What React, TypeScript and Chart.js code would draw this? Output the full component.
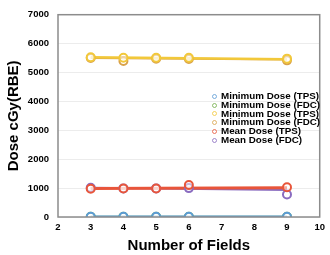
import React, { useEffect, useRef } from "react";
import { Chart, registerables } from "chart.js";

Chart.register(...registerables);

const fields = [3, 4, 5, 6, 9];
const xTicks = [2, 3, 4, 5, 6, 7, 8, 9, 10];
const yTicks = [0, 1000, 2000, 3000, 4000, 5000, 6000, 7000];

const seriesLabels = [
  "Minimum Dose (TPS)",
  "Minimum Dose (FDC)",
  "Minimum Dose (TPS)",
  "Minimum Dose (FDC)",
  "Mean Dose (TPS)",
  "Mean Dose (FDC)",
];
const seriesColors = ["#5b9bd5", "#70ad47", "#f2c83a", "#d9a24a", "#e8553a", "#8a6cc0"];

const minTPS = [5, 5, 5, 5, 5];
const minFDC = [5, 5, 5, 5, 5];
const max1TPS = [5530, 5510, 5510, 5510, 5480];
const max1FDC = [5500, 5400, 5480, 5470, 5420];
const meanTPS = [975, 985, 985, 1110, 1030];
const meanFDC = [1010, 990, 990, 1000, 780];
const seriesValues = [minTPS, minFDC, max1TPS, max1FDC, meanTPS, meanFDC];

// trend line end points (x=3 and x=9)
const trendX = [3, 9];
const trendMinTPS = [5, 5];
const trendMinFDC = [5, 5];
const trendMax1TPS = [5525, 5460];
const trendMax1FDC = [5500, 5450];
const trendMeanTPS = [990, 1010];
const trendMeanFDC = [1010, 930];
const trendValues = [trendMinTPS, trendMinFDC, trendMax1TPS, trendMax1FDC, trendMeanTPS, trendMeanFDC];
const trendWidths = [2.5, 2, 2.5, 2, 3, 2];

const FONT = "Arial, 'Liberation Sans', sans-serif";

const framePlugin = {
  id: "frame",
  afterDraw(chart: any) {
    const { ctx, chartArea } = chart;
    ctx.save();
    ctx.strokeStyle = "#8c8c8c";
    ctx.lineWidth = 1.5;
    ctx.strokeRect(chartArea.left, chartArea.top, chartArea.right - chartArea.left, chartArea.bottom - chartArea.top);
    ctx.restore();
  },
};

export default function App() {
  const ref = useRef<HTMLCanvasElement>(null);
  useEffect(() => {
    const datasets: any[] = [];
    trendValues.forEach((vals, i) => {
      datasets.push({
        type: "line",
        label: seriesLabels[i] + " trend",
        data: trendX.map((x, j) => ({ x, y: vals[j] })),
        borderColor: seriesColors[i],
        borderWidth: trendWidths[i],
        pointRadius: 0,
        fill: false,
        order: 10,
      });
    });
    seriesValues.forEach((vals, i) => {
      datasets.push({
        type: "scatter",
        label: seriesLabels[i],
        data: fields.map((x, j) => ({ x, y: vals[j] })),
        borderColor: seriesColors[i],
        backgroundColor: "rgba(255,255,255,0.5)",
        pointRadius: 4,
        pointBorderWidth: 2,
        showLine: false,
        order: 1,
      });
    });
    const tickFont = { family: FONT, size: 9.5, weight: "bold" as const };
    const chart = new Chart(ref.current!, {
      type: "scatter",
      data: { datasets },
      options: {
        animation: false,
        responsive: false,
        layout: { padding: { top: 11, right: 6, left: 0, bottom: 0 } },
        plugins: { legend: { display: false }, tooltip: { enabled: false } },
        scales: {
          x: {
            type: "linear",
            min: 2,
            max: 10,
            afterBuildTicks: (s: any) => {
              s.ticks = xTicks.map((v) => ({ value: v }));
            },
            afterFit: (s: any) => {
              s.height = 38;
            },
            grid: { display: false, drawTicks: false },
            border: { display: false },
            ticks: { color: "#000", font: tickFont, padding: 5, maxRotation: 0, callback: (v: any) => String(v) },
            title: {
              display: true,
              text: "Number of Fields",
              color: "#000",
              font: { family: FONT, size: 15, weight: "bold" },
              padding: { top: 2, bottom: 0 },
            },
          },
          y: {
            type: "linear",
            min: 0,
            max: 7000,
            afterBuildTicks: (s: any) => {
              s.ticks = yTicks.map((v) => ({ value: v }));
            },
            afterFit: (s: any) => {
              s.width = 58;
            },
            grid: { color: "#ececec", drawTicks: false },
            border: { display: false },
            ticks: { color: "#000", font: tickFont, padding: 9, callback: (v: any) => String(v) },
            title: {
              display: true,
              text: "Dose cGy(RBE)",
              color: "#000",
              font: { family: FONT, size: 15, weight: "bold" },
              padding: { top: 5, bottom: 0 },
            },
          },
        },
      },
      plugins: [framePlugin],
    } as any);
    return () => chart.destroy();
  }, []);

  return (
    <div style={{ position: "absolute", left: 0, top: 0, width: 330, height: 255, background: "#fff" }}>
      <canvas ref={ref} width={330} height={255} style={{ display: "block" }} />
      <div style={{ position: "absolute", left: 212, top: 92, fontFamily: FONT, fontWeight: "bold", fontSize: 9.8 }}>
        {seriesLabels.map((lab, i) => (
          <div key={i} style={{ display: "flex", alignItems: "center", height: 8.8, lineHeight: "8.8px", whiteSpace: "nowrap" }}>
            <span
              style={{
                display: "inline-block",
                width: 3,
                height: 3,
                borderRadius: "50%",
                border: `1.5px solid ${seriesColors[i]}`,
                marginRight: 4,
                opacity: 0.8,
              }}
            />
            <span>{lab}</span>
          </div>
        ))}
      </div>
    </div>
  );
}
